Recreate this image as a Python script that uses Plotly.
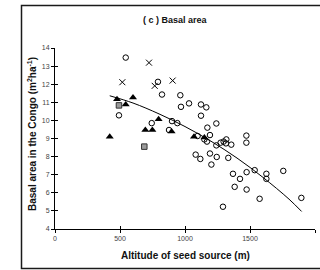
import plotly.graph_objects as go

# Open circles
circ_x = [544, 792, 823, 964, 969, 1031, 1123, 1164, 1123, 492, 744, 941, 900, 877,
          1241, 1172, 1192, 1097, 1149, 1169, 1241, 1274, 1297, 1318, 1315, 1356,
          1472, 1472, 1082, 1118, 1192, 1244, 1203, 1333, 1369, 1382, 1423, 1474,
          1474, 1536, 1574, 1626, 1626, 1756, 1895, 1292]
circ_y = [13.47, 12.13, 11.43, 11.39, 10.75, 10.94, 10.88, 10.72, 10.26, 10.28, 9.85, 9.85, 9.96, 9.47,
          9.83, 9.60, 9.19, 9.14, 8.95, 8.83, 8.62, 8.77, 8.83, 8.95, 8.73, 8.66,
          9.16, 8.77, 8.11, 7.87, 8.17, 7.98, 7.56, 7.93, 7.05, 6.33, 6.77, 7.14,
          6.18, 7.25, 5.67, 7.05, 6.77, 7.21, 5.72, 5.23]

# Crosses
cross_x = [518, 723, 767, 905]
cross_y = [12.11, 13.19, 11.91, 12.20]

# Filled triangles
tri_x = [421, 477, 544, 600, 695, 749, 797, 897, 1069, 1149]
tri_y = [9.10, 11.17, 10.88, 11.27, 9.47, 9.47, 10.07, 9.39, 9.10, 9.05]

# Grey squares
sq_x = [492, 687]
sq_y = [10.83, 8.55]

# Fitted curve
curve_x = [421, 600, 800, 1000, 1200, 1400, 1600, 1800, 1897]
curve_y = [11.36, 10.96, 10.36, 9.66, 8.85, 7.92, 6.85, 5.65, 4.97]

x_ticks = [0, 500, 1000, 1500, 2000]
y_ticks = [4, 5, 6, 7, 8, 9, 10, 11, 12, 13, 14]

FONT = "Arial, Liberation Sans, sans-serif"
W, H = 320, 270
L, R, T, B = 55, 315, 48, 229
xdom = [L / W, R / W]
ydom = [(H - B) / H, (H - T) / H]

fig = go.Figure()
fig.add_trace(go.Scatter(x=curve_x, y=curve_y, mode="lines", line=dict(color="black", width=1, shape="spline"),
                         hoverinfo="skip"))
fig.add_trace(go.Scatter(x=circ_x, y=circ_y, mode="markers",
                         marker=dict(symbol="circle-open", size=5.5, color="black", line=dict(width=1))))
fig.add_trace(go.Scatter(x=cross_x, y=cross_y, mode="markers",
                         marker=dict(symbol="x-thin-open", size=6, color="black", line=dict(width=1))))
fig.add_trace(go.Scatter(x=tri_x, y=tri_y, mode="markers",
                         marker=dict(symbol="triangle-up", size=7, color="black")))
fig.add_trace(go.Scatter(x=sq_x, y=sq_y, mode="markers",
                         marker=dict(symbol="square", size=5.5, color="#9a9a9a", line=dict(width=1, color="#333"))))
fig.add_trace(go.Scatter(x=[None], y=[None], xaxis="x2", yaxis="y2", showlegend=False, hoverinfo="skip"))

fig.update_layout(
    width=W, height=H,
    margin=dict(l=0, r=0, t=0, b=0, pad=0),
    paper_bgcolor="white", plot_bgcolor="rgba(0,0,0,0)",
    showlegend=False,
    font=dict(family=FONT, color="#222"),
    xaxis=dict(domain=xdom, range=[0, 2000], tickvals=x_ticks, showline=True, linecolor="black", linewidth=1,
               ticks="outside", ticklen=3, tickcolor="black", showgrid=False, zeroline=False,
               tickfont=dict(size=7, color="#444"), fixedrange=True, automargin=False),
    yaxis=dict(domain=ydom, range=[4, 14], tickvals=y_ticks, showline=True, linecolor="black", linewidth=1,
               ticks="outside", ticklen=3, tickcolor="black", showgrid=False, zeroline=False,
               tickfont=dict(size=7, color="#444"), fixedrange=True, automargin=False),
    xaxis2=dict(domain=xdom, range=[0, 2000], tickvals=x_ticks, overlaying="x", ticks="inside", ticklen=3,
                tickcolor="black", showticklabels=False, showgrid=False, zeroline=False, showline=False,
                anchor="y2", side="bottom", fixedrange=True),
    yaxis2=dict(domain=ydom, range=[4, 14], tickvals=y_ticks, overlaying="y", ticks="inside", ticklen=3,
                tickcolor="black", showticklabels=False, showgrid=False, zeroline=False, showline=False,
                anchor="x2", side="left", fixedrange=True),
    annotations=[
        dict(text="<b>( c ) Basal area</b>", xref="paper", yref="paper",
             x=175 / W, y=1 - 20 / H, xanchor="center", yanchor="middle", showarrow=False,
             font=dict(size=9, family=FONT, color="#111")),
        dict(text="<b>Altitude of seed source (m)</b>", xref="paper", yref="paper",
             x=185 / W, y=1 - 255 / H, xanchor="center", yanchor="middle", showarrow=False,
             font=dict(size=10, family=FONT, color="#111")),
        dict(text="<b>Basal area in the Congo (m<sup>2</sup>ha<sup>-1</sup>)</b>", xref="paper", yref="paper",
             x=32 / W, y=1 - 134 / H, xanchor="center", yanchor="middle", textangle=-90,
             showarrow=False, font=dict(size=10, family=FONT, color="#111")),
    ],
    shapes=[
        dict(type="rect", xref="paper", yref="paper", x0=21.5 / W, x1=1.05, y0=1.5 / H, y1=1 - 5.5 / H,
             line=dict(color="#1a1a1a", width=1.5), fillcolor="rgba(0,0,0,0)", layer="above"),
    ],
)

fig.write_html("out.html", config={"displayModeBar": False, "staticPlot": True},
               post_script="document.body.style.margin='0';document.body.style.overflow='hidden';")
